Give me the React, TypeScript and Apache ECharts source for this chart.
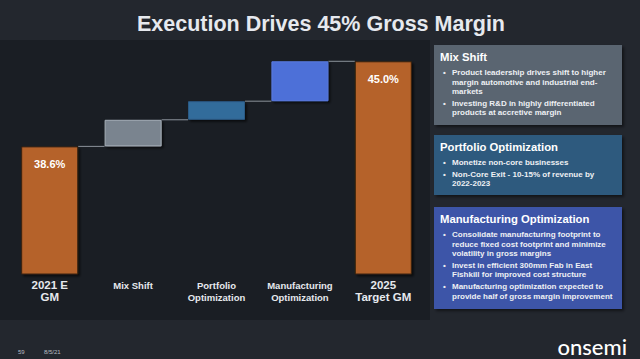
import React, { useEffect, useRef } from "react";
import * as echarts from "echarts";

const categories = ["2021 E\nGM", "Mix Shift", "Portfolio\nOptimization", "Manufacturing\nOptimization", "2025\nTarget GM"];
const startValue = 38.6;
const steps = [2.0, 1.4, 3.0];
const endValue = 45.0;
const labelTexts = ["38.6%", "", "", "", "45.0%"];

const title = "Execution Drives 45% Gross Margin";
const boxTitles = ["Mix Shift", "Portfolio Optimization", "Manufacturing Optimization"];
const boxBullets = [
  [
    ["Product leadership drives shift to higher", "margin automotive and industrial end-", "markets"],
    ["Investing R&D in highly differentiated", "products at accretive margin"],
  ],
  [
    ["Monetize non-core businesses"],
    ["Non-Core Exit - 10-15% of revenue by", "2022-2023"],
  ],
  [
    ["Consolidate manufacturing footprint to", "reduce fixed cost footprint and minimize", "volatility in gross margins"],
    ["Invest in efficient 300mm Fab in East", "Fishkill for improved cost structure"],
    ["Manufacturing optimization expected to", "provide half of gross margin improvement"],
  ],
];
const footerPage = "59";
const footerDate = "8/5/21";
const logoText = "onsemi";

const barColors = ["#b5622a", "#7a848f", "#336c9b", "#4e70d8", "#b5622a"];
const barBorders = ["#3a2210", "#a7afb8", "#2a5a85", "#5a7be0", "#3a2210"];
const boxColors = ["#5a6571", "#2d5a7e", "#3d55a8"];
const boxRects = [
  { y: 45, h: 80 },
  { y: 135, h: 60 },
  { y: 207, h: 102 },
];

export default function App() {
  const ref = useRef<HTMLDivElement>(null);
  useEffect(() => {
    document.body.style.margin = "0";
    const chart = echarts.init(ref.current!, null, { renderer: "svg" });

    const bases: (number | string)[] = ["-"];
    const deltas: number[] = [startValue];
    const levels: number[][] = [[0, startValue]];
    let cum = startValue;
    steps.forEach((s, i) => {
      bases.push(cum);
      deltas.push(s);
      cum += s;
      levels.push([i + 1, cum]);
    });
    bases.push("-");
    deltas.push(endValue);

    const barW = 57;
    const font = "'Liberation Sans', Arial, sans-serif";

    const graphics: any[] = [];
    graphics.push({ type: "rect", left: 0, top: 0, z: -10, shape: { width: 640, height: 359 }, style: { fill: "#23272e" }, silent: true });
    graphics.push({ type: "rect", left: 0, top: 40, z: -9, shape: { width: 430, height: 280 }, style: { fill: "#1a1e24" }, silent: true });
    graphics.push({
      type: "text", x: 321, y: 24, style: { text: title, font: `bold 21.5px ${font}`, fill: "#e6e9ee", align: "center", verticalAlign: "middle" },
    });
    boxRects.forEach((b, k) => {
      graphics.push({
        type: "rect", x: 434, y: b.y, shape: { width: 188, height: b.h },
        style: { fill: boxColors[k], shadowColor: "rgba(0,0,0,0.5)", shadowBlur: 3, shadowOffsetX: 2, shadowOffsetY: 2 },
      });
      graphics.push({
        type: "text", x: 440, y: b.y + 12,
        style: { text: boxTitles[k], font: `bold 11.3px ${font}`, fill: "#ffffff", verticalAlign: "middle" },
      });
      let ly = b.y + 27.5;
      boxBullets[k].forEach((bl) => {
        graphics.push({
          type: "text", x: 443, y: ly,
          style: { text: "•", font: `bold 8px ${font}`, fill: "#e8ebf0", verticalAlign: "middle" },
        });
        bl.forEach((line) => {
          graphics.push({
            type: "text", x: 452, y: ly,
            style: { text: line, font: `bold 8px ${font}`, fill: "#eef0f4", verticalAlign: "middle" },
          });
          ly += 9.5;
        });
        ly += 2.3;
      });
    });
    graphics.push({ type: "text", x: 18, y: 352, style: { text: footerPage, font: `6px ${font}`, fill: "#b8bcc2", verticalAlign: "middle" } });
    graphics.push({ type: "text", x: 44, y: 352, style: { text: footerDate, font: `6px ${font}`, fill: "#b8bcc2", verticalAlign: "middle" } });
    graphics.push({ type: "text", x: 627, y: 346, style: { text: logoText, font: `500 22px Lato, Roboto, sans-serif`, fill: "#ffffff", align: "right", verticalAlign: "middle" } });

    chart.setOption({
      animation: false,
      grid: { left: 8, right: 215, top: 48, bottom: 85 },
      xAxis: {
        type: "category",
        data: categories,
        axisLine: { show: false },
        axisTick: { show: false },
        axisLabel: {
          margin: 5,
          interval: 0,
          formatter: (v: string, i: number) => {
            const st = i === 0 || i === 4 ? "big" : "small";
            return v.split("\n").map((l) => `{${st}|${l}}`).join("\n");
          },
          rich: {
            big: { fontFamily: font, fontWeight: "bold", fontSize: 11.5, color: "#e6e9ee", lineHeight: 12 },
            small: { fontFamily: font, fontWeight: "bold", fontSize: 9.5, color: "#e6e9ee", lineHeight: 12 },
          },
        },
      },
      yAxis: { type: "value", min: 29, max: 46, show: false, splitLine: { show: false } },
      series: [
        {
          type: "bar", stack: "w", data: bases, barWidth: barW,
          itemStyle: { color: "transparent" }, silent: true,
        },
        {
          type: "bar", stack: "w", barWidth: barW,
          data: deltas.map((v, i) => ({
            value: v,
            itemStyle: {
              color: barColors[i], borderColor: barBorders[i], borderWidth: 1,
              shadowColor: "rgba(0,0,0,0.6)", shadowBlur: 2, shadowOffsetX: 2, shadowOffsetY: 2,
            },
            label: {
              show: labelTexts[i] !== "", formatter: labelTexts[i], position: "insideTop", distance: 12,
              fontFamily: font, fontWeight: "bold", fontSize: 11, color: "#ffffff",
            },
          })),
        },
        {
          type: "custom",
          data: levels,
          z: 1,
          renderItem: (params: any, api: any) => {
            const p = api.coord([api.value(0), api.value(1)]);
            const band = api.size([1, 0])[0];
            return {
              type: "line",
              shape: { x1: p[0] + barW / 2, y1: p[1], x2: p[0] + band - barW / 2, y2: p[1] },
              style: { stroke: "#8c939b", lineWidth: 1 },
            };
          },
        },
      ],
      graphic: graphics,
    });
    return () => chart.dispose();
  }, []);
  return <div ref={ref} style={{ width: 640, height: 359 }} />;
}
